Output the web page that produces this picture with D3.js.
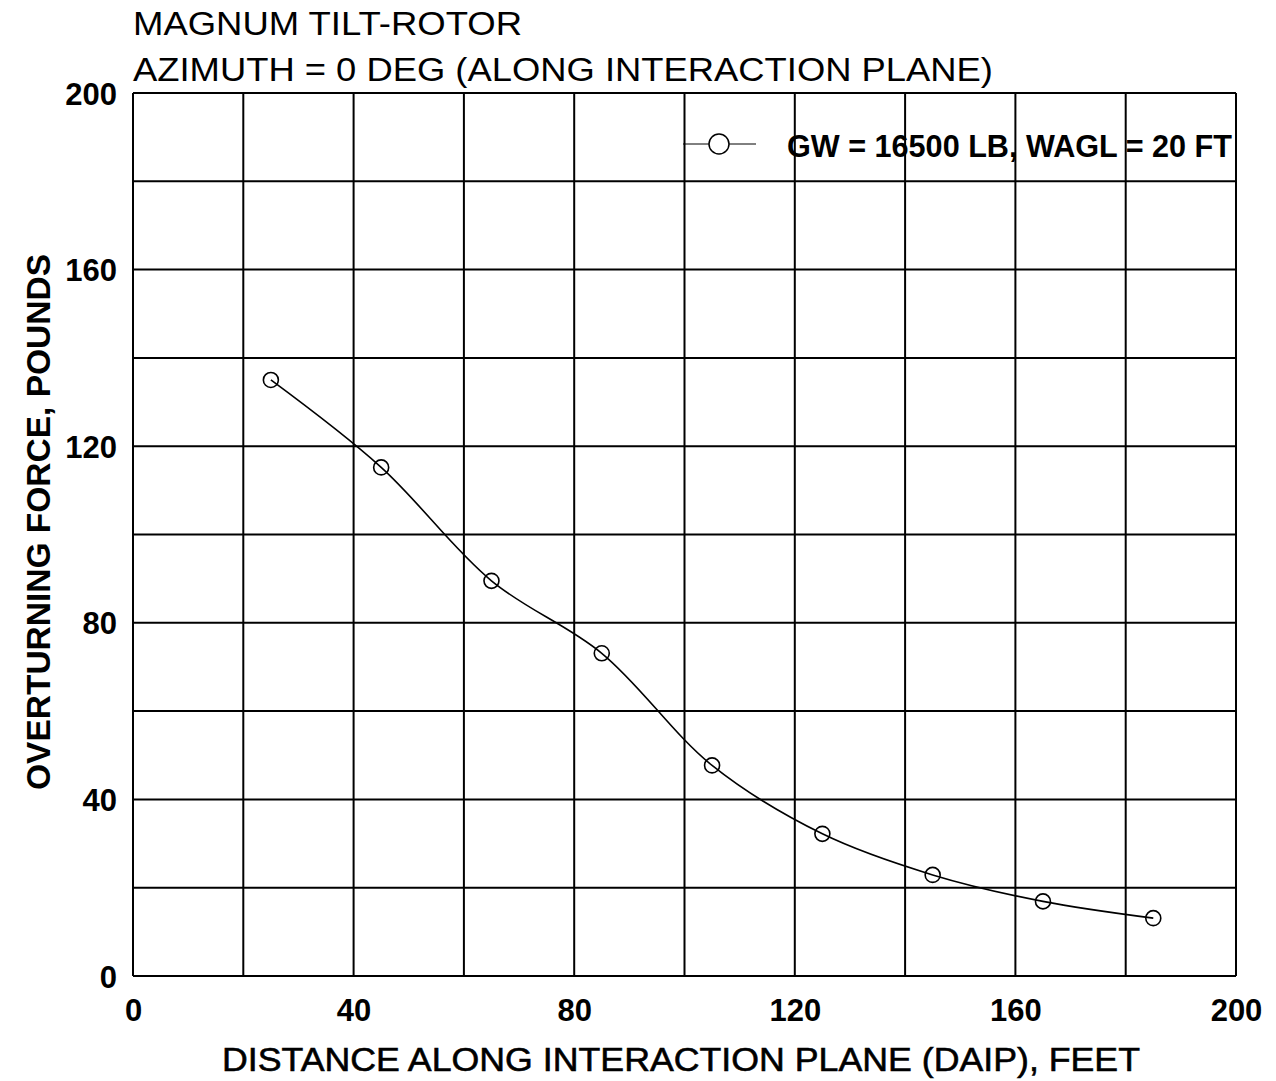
<!DOCTYPE html>
<html><head><meta charset="utf-8">
<script src="https://cdn.jsdelivr.net/npm/d3@7"></script>
<style>
body{margin:0;background:#fff;}
text{font-family:"Liberation Sans",Arial,Helvetica,sans-serif;fill:#000;}
</style></head>
<body>
<svg id="chart" width="1276" height="1081"></svg>
<script>
const titleLines = ["MAGNUM TILT-ROTOR", "AZIMUTH = 0 DEG (ALONG INTERACTION PLANE)"];
const xTitle = "DISTANCE ALONG INTERACTION PLANE (DAIP), FEET";
const yTitle = "OVERTURNING FORCE, POUNDS";
const legendLabel = "GW = 16500 LB, WAGL = 20 FT";
const xTicks = [0, 40, 80, 120, 160, 200];
const yTicks = [0, 40, 80, 120, 160, 200];
const gridStep = [0,20,40,60,80,100,120,140,160,180,200];
const distance = [25, 45, 65, 85, 105, 125, 145, 165, 185];
const force = [135.0, 115.2, 89.5, 73.1, 47.7, 32.2, 22.9, 16.9, 13.1];

const svg = d3.select("#chart");
const L = 133, R = 1236, T = 93, B = 976;
const x = d3.scaleLinear().domain([0,200]).range([L,R]);
const y = d3.scaleLinear().domain([0,200]).range([B,T]);

// grid
const g = svg.append("g");
g.selectAll("line.v").data(gridStep).join("line")
  .attr("x1", d=>x(d)).attr("x2", d=>x(d)).attr("y1", T).attr("y2", B)
  .attr("stroke","#000").attr("stroke-width",2);
g.selectAll("line.h").data(gridStep).join("line")
  .attr("y1", d=>y(d)).attr("y2", d=>y(d)).attr("x1", L).attr("x2", R)
  .attr("stroke","#000").attr("stroke-width",2);

// axes (labels only)
const xAxis = d3.axisBottom(x).tickValues(xTicks).tickSize(0).tickPadding(0).tickFormat(d3.format("d"));
const yAxis = d3.axisLeft(y).tickValues(yTicks).tickSize(0).tickPadding(0).tickFormat(d3.format("d"));
const xa = svg.append("g").attr("transform",`translate(0,${B})`).call(xAxis);
xa.select(".domain").remove();
xa.selectAll("text").attr("y", 23).attr("dy","0.71em").attr("font-size",31).attr("font-weight","bold")
  .attr("font-family","'Liberation Sans',Arial,sans-serif");
const ya = svg.append("g").attr("transform",`translate(${L-16},0)`).call(yAxis);
ya.select(".domain").remove();
ya.selectAll("text").attr("x",0).attr("dy","0.36em").attr("font-size",31).attr("font-weight","bold")
  .attr("font-family","'Liberation Sans',Arial,sans-serif");

// curve
const pts = distance.map((d,i)=>[d, force[i]]);
const line = d3.line().x(d=>x(d[0])).y(d=>y(d[1])).curve(d3.curveCatmullRom.alpha(0.5));
svg.append("path").datum(pts).attr("d", line).attr("fill","none")
  .attr("stroke","#000").attr("stroke-width",1.6);
svg.selectAll("circle.pt").data(pts).join("circle")
  .attr("cx", d=>x(d[0])).attr("cy", d=>y(d[1])).attr("r",7.5)
  .attr("fill","none").attr("stroke","#000").attr("stroke-width",1.6);

// legend
svg.append("line").attr("x1",683).attr("x2",756).attr("y1",144).attr("y2",144)
  .attr("stroke","#000").attr("stroke-width",1);
svg.append("circle").attr("cx",719).attr("cy",144).attr("r",10)
  .attr("fill","#fff").attr("stroke","#000").attr("stroke-width",1.5);
svg.append("text").attr("x",787).attr("y",157).attr("font-size",31).attr("font-weight","bold")
  .attr("textLength",445).attr("lengthAdjust","spacingAndGlyphs").text(legendLabel);

// title
svg.append("text").attr("x",133).attr("y",35).attr("font-size",33)
  .attr("textLength",389).attr("lengthAdjust","spacingAndGlyphs").text(titleLines[0]);
svg.append("text").attr("x",133).attr("y",81).attr("font-size",33)
  .attr("textLength",860).attr("lengthAdjust","spacingAndGlyphs").text(titleLines[1]);

// axis titles
svg.append("text").attr("x",681).attr("y",1071).attr("text-anchor","middle")
  .attr("font-size",34).attr("stroke","#000").attr("stroke-width",0.6)
  .attr("textLength",918).attr("lengthAdjust","spacingAndGlyphs").text(xTitle);
svg.append("text").attr("transform","translate(50,522) rotate(-90)").attr("text-anchor","middle")
  .attr("font-size",33).attr("font-weight","bold").attr("textLength",536).attr("lengthAdjust","spacingAndGlyphs").text(yTitle);
</script>
</body></html>
